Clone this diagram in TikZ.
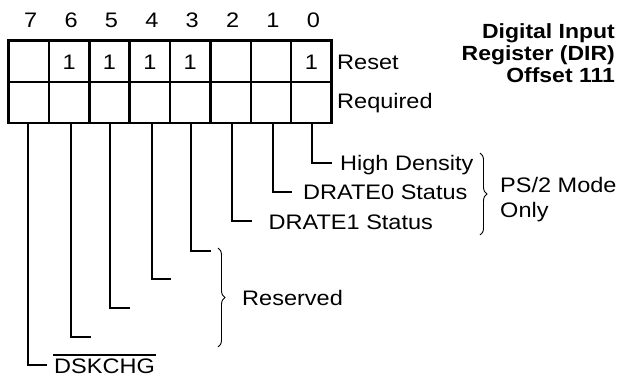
\documentclass[tikz,border=0pt]{standalone}
\usepackage{fontspec}
\setmainfont[FakeStretch=1.12]{Liberation Sans}
\usetikzlibrary{decorations.pathreplacing}
\begin{document}
\begin{tikzpicture}[x=1pt,y=-1pt,
  txt/.style={font=\fontsize{21}{21}\selectfont, inner sep=0pt},
  ttl/.style={font=\fontsize{20.5}{20.5}\selectfont\bfseries, inner sep=0pt, anchor=base east},
  lead/.style={line width=2pt},
  gridline/.style={line width=2.5pt},
  brc/.style={decorate, decoration={brace, amplitude=7pt}, line width=0.9pt}]
\useasboundingbox (0,0) rectangle (621,378);

% register grid
\draw[gridline] (8.5,40.5) rectangle (331.5,123);
\draw[gridline] (8.5,81.75) -- (331.5,81.75);
\foreach \i in {1,...,7}
  \draw[gridline] ({8.5+40.375*\i},40.5) -- ({8.5+40.375*\i},123);

% bit numbers
\foreach \b [count=\k from 0] in {7,6,5,4,3,2,1,0}
  \node[txt, anchor=base] (n\b) at ({30.7+40.375*\k},27.5) {\b};

% reset values
\foreach \b/\k in {6/1,5/2,4/3,3/4,0/7}
  \node[txt, anchor=base] (v\b) at ({28.7+40.375*\k},69.5) {1};

\node[txt, anchor=base west] (reset) at (337,69.5) {Reset};
\node[txt, anchor=base west] (req) at (337,108.5) {Required};

% title
\node[ttl] (t1) at (615,38) {Digital Input};
\node[ttl] (t2) at (615,60) {Register (DIR)};
\node[ttl] (t3) at (615,82) {Offset 111};

% labels
\node[txt, anchor=base west] (hd) at (340,170) {High Density};
\node[txt, anchor=base west] (d0) at (303,199) {DRATE0 Status};
\node[txt, anchor=base west] (d1) at (268.5,229) {DRATE1 Status};
\node[txt, anchor=base west] (ps1) at (500,192) {PS/2 Mode};
\node[txt, anchor=base west] (ps2) at (500,217) {Only};
\node[txt, anchor=base west] (res) at (242,305) {Reserved};
\node[txt, anchor=base west] (dsk) at (54,373) {DSKCHG};
\draw[line width=1.7pt] ([xshift=-1pt,yshift=3pt]dsk.north west) -- ([xshift=1pt,yshift=3pt]dsk.north east);

% leader lines
\coordinate (s0) at (311.7,123); \coordinate (e0) at (332,163);
\coordinate (s1) at (272.7,123); \coordinate (e1) at (292,192);
\coordinate (s2) at (232.3,123); \coordinate (e2) at (252,221);
\coordinate (s3) at (190.7,123); \coordinate (e3) at (211,251);
\coordinate (s4) at (151.7,123); \coordinate (e4) at (171,279);
\coordinate (s5) at (110,123);   \coordinate (e5) at (130,308);
\coordinate (s6) at (70.7,123);  \coordinate (e6) at (91,337);
\coordinate (s7) at (28.3,123);  \coordinate (e7) at (47,365);
\foreach \i in {0,...,7}
  \draw[lead] (s\i) |- (e\i);

% braces
\draw[brc] (480,153) -- (480,235);
\draw[brc] (218,248) -- (218,347);
\end{tikzpicture}
\end{document}
